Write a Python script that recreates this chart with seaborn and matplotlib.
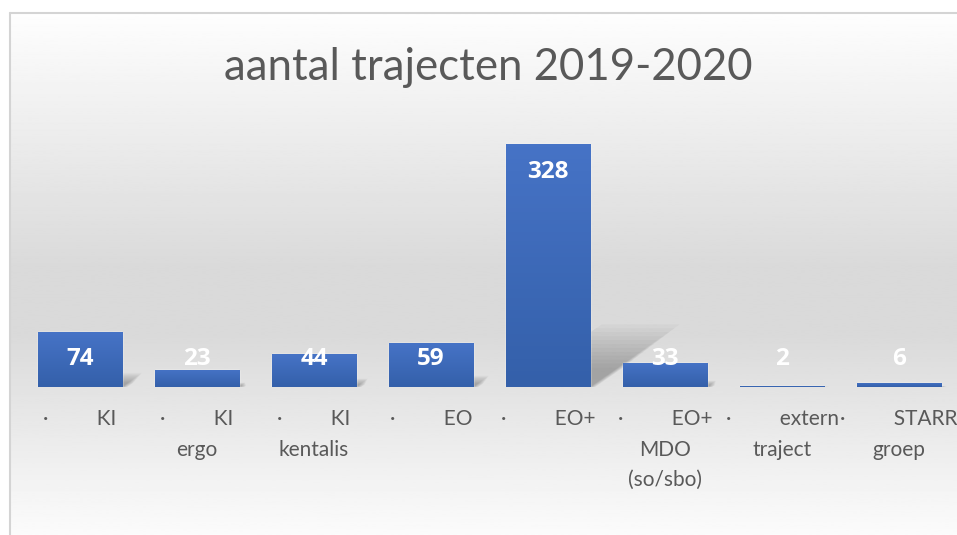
import numpy as np
import matplotlib.pyplot as plt
import seaborn as sns
from matplotlib.colors import LinearSegmentedColormap
from matplotlib.patches import Polygon

# data
categories = ["KI", "KI ergo", "KI kentalis", "EO", "EO+", "EO+ MDO (so/sbo)",
              "extern traject", "STARR groep"]
first_lines = ["KI", "KI", "KI", "EO", "EO+", "EO+", "extern", "STARR"]
other_lines = [[], ["ergo"], ["kentalis"], [], [], ["MDO", "(so/sbo)"],
               ["traject"], ["groep"]]
values = [74, 23, 44, 59, 328, 33, 2, 6]
title = "aantal trajecten 2019-2020"

sns.set_style("white")
plt.rcParams['font.family'] = ['Lato', 'DejaVu Sans']

W, H = 957, 535
fig = plt.figure(figsize=(W / 100, H / 100), dpi=100)

# chart area background: light vertical gradient + thin border
bg = fig.add_axes([0, 0, 1, 1], zorder=0)
bg.set_xlim(0, 1)
bg.set_ylim(0, 1)
bg.axis('off')
rows = np.linspace(0, 1, 300)
shade = np.interp(rows, [0, 0.48, 0.62, 1.0], [0.995, 0.855, 0.855, 0.985])
left_f, top_f = 10 / W, 1 - 13 / H
bg.imshow(shade[:, None], cmap='gray', vmin=0, vmax=1, aspect='auto',
          extent=[left_f, 1, 0, top_f], origin='upper')
bg.plot([left_f, left_f], [0, top_f], color='#d4d4d4', lw=1.5)
bg.plot([left_f, 1], [top_f, top_f], color='#d4d4d4', lw=1.5)

fig.text(0.51, 1 - 67 / H, title, ha='center', va='center',
         fontsize=31.5, color='#595959')

ymax = 350
ax = fig.add_axes([21.5 / W, 1 - 387 / H, 936 / W, 0.4847], zorder=1)
ax.patch.set_alpha(0)

sns.barplot(x=categories, y=values, color='#4472c4', saturation=1,
            width=0.718, ax=ax, zorder=3)
ax.set_xlim(-0.5, len(values) - 0.5)
ax.set_ylim(0, ymax)

# perspective shadows behind the bars (soft edges from stacked layers)
px_y = 0.4847 * H / ymax
px_x = 936 / len(values)
for p, v in zip(ax.patches[:len(values)], values):
    x0 = p.get_x()
    x1 = x0 + p.get_width()
    dy = 0.23 * v
    dx = 0.33 * v * px_y / px_x
    for k in range(12):
        s = 1.12 - k * 0.07
        grow = 0.06 * (1.12 - s)
        poly = Polygon([(x0 + 0.05, 0), (x1 + grow, 0),
                        (x1 + dx * s + grow, dy * s), (x0 + 0.05 + dx * s, dy * s)],
                       closed=True, facecolor='black', edgecolor='none',
                       alpha=0.022, zorder=1)
        ax.add_patch(poly)

# vertical gradient fill on each bar
bar_cmap = LinearSegmentedColormap.from_list('bar', ['#4673c6', '#3460aa'])
for p in ax.patches[:len(values)]:
    x0, w, h = p.get_x(), p.get_width(), p.get_height()
    im = ax.imshow(np.linspace(0, 1, 60)[:, None], cmap=bar_cmap,
                   extent=[x0, x0 + w, 0, h], aspect='auto', origin='upper',
                   zorder=4)
    im.set_clip_path(p)
ax.set_xlim(-0.5, len(values) - 0.5)
ax.set_ylim(0, ymax)

for i, v in enumerate(values):
    ax.text(i, max(v - 38, 38), str(v), ha='center', va='center',
            color='white', fontweight='bold', fontsize=17.5,
            family=['Open Sans', 'DejaVu Sans'], zorder=6)

labels = []
for f, rest in zip(first_lines, other_lines):
    labels.append("\n".join(["·" + " " * 9 + f] + rest))
ax.set_xticks(range(len(values)))
ax.set_xticklabels(labels, fontsize=15, color='#595959', linespacing=1.65)
ax.tick_params(axis='x', length=0, pad=16)
ax.set_yticks([])
ax.set_xlabel('')
ax.set_ylabel('')
sns.despine(ax=ax, left=True, bottom=True)

fig.savefig('out.png', dpi=100)
